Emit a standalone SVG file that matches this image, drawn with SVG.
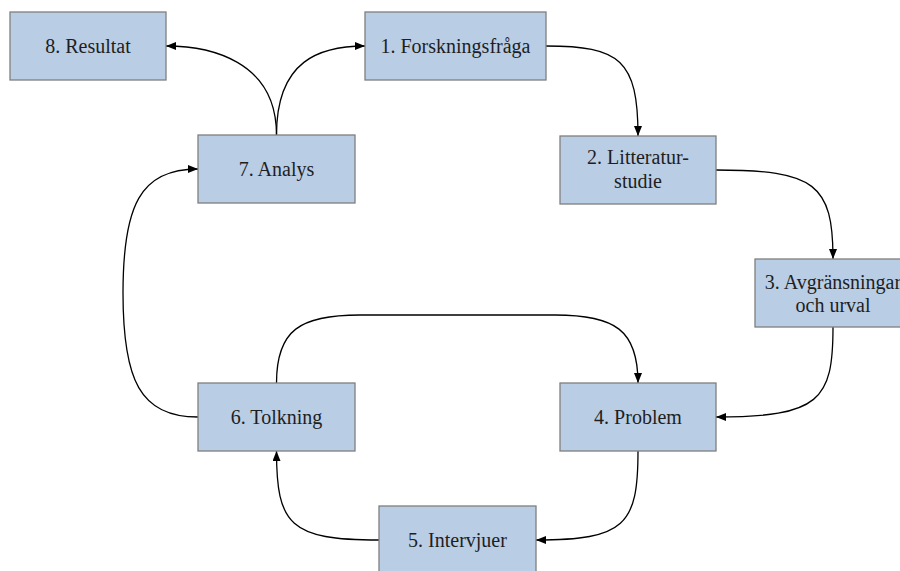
<svg xmlns="http://www.w3.org/2000/svg" width="900" height="571" viewBox="0 0 900 571">
  <style>
    .box { fill: #B9CDE5; stroke: #7F7F7F; stroke-width: 1.3; }
    .lbl { font-size: 20px; fill: #1E1E1E; text-anchor: middle; }
    .edge { fill: none; stroke: #000; stroke-width: 1.3; marker-end: url(#arrow); }
  </style>
  <defs>
    <marker id="arrow" markerUnits="userSpaceOnUse" markerWidth="10" markerHeight="8" refX="10" refY="4" orient="auto">
      <path d="M0,0 L10,4 L0,8 z" fill="#000"/>
    </marker>
  </defs>
  <rect width="900" height="571" fill="#fff"/>

  <g id="connectors">
    <!-- 7 -> 8 and 7 -> 1 -->
    <path class="edge" d="M276.5,135 C276.5,60 209,46 166,46"/>
    <path class="edge" d="M276.5,135 C276.5,60 320,46 365,46"/>
    <!-- 1 -> 2 -->
    <path class="edge" d="M546,46 C620,46 638,60 638,136"/>
    <!-- 2 -> 3 -->
    <path class="edge" d="M716,170 C815,170 833,184 833,259"/>
    <!-- 3 -> 4 -->
    <path class="edge" d="M833,327 C833,400 820,417 716,417"/>
    <!-- 4 -> 5 -->
    <path class="edge" d="M638,451 C638,525 625,540 536,540"/>
    <!-- 5 -> 6 -->
    <path class="edge" d="M379,540 C290,540 276.5,525 276.5,451"/>
    <!-- 6 -> 7 -->
    <path class="edge" d="M198,417 C140,417 123,380 123,293 C123,206 140,169 198,169"/>
    <!-- 6 -> 4 -->
    <path class="edge" d="M276.5,383 C276.5,330 300,315 360,315 L555,315 C615,315 638,330 638,383"/>
  </g>

  <g font-family="Liberation Serif, DejaVu Serif, serif">
  <g id="n8">
    <rect class="box" x="10" y="12" width="156" height="68"/>
    <text class="lbl" x="88" y="52.5">8. Resultat</text>
  </g>
  <g id="n1">
    <rect class="box" x="365" y="12" width="181" height="68"/>
    <text class="lbl" x="455.5" y="52.5">1. Forskningsfråga</text>
  </g>
  <g id="n7">
    <rect class="box" x="198" y="135" width="157" height="68"/>
    <text class="lbl" x="276.5" y="176">7. Analys</text>
  </g>
  <g id="n2">
    <rect class="box" x="560" y="136" width="156" height="68"/>
    <text class="lbl" x="638" y="164">2. Litteratur-</text>
    <text class="lbl" x="638" y="188">studie</text>
  </g>
  <g id="n3">
    <rect class="box" x="755" y="259" width="156" height="68"/>
    <text class="lbl" x="833" y="288.5">3. Avgränsningar</text>
    <text class="lbl" x="833" y="312">och urval</text>
  </g>
  <g id="n6">
    <rect class="box" x="198" y="383" width="157" height="68"/>
    <text class="lbl" x="276.5" y="424">6. Tolkning</text>
  </g>
  <g id="n4">
    <rect class="box" x="560" y="383" width="156" height="68"/>
    <text class="lbl" x="638" y="424">4. Problem</text>
  </g>
  <g id="n5">
    <rect class="box" x="379" y="506" width="157" height="68"/>
    <text class="lbl" x="457.5" y="547">5. Intervjuer</text>
  </g>
  </g>
</svg>
